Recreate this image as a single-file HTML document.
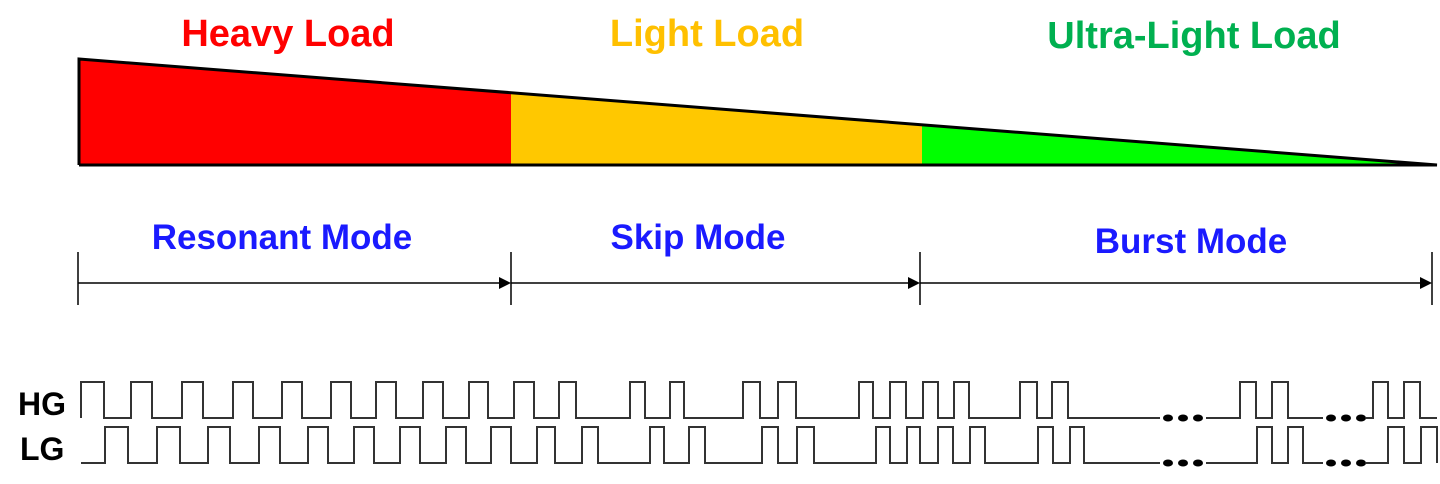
<!DOCTYPE html><html><head><style>body{margin:0;background:#fff}svg{display:block}text{font-family:"Liberation Sans",Arial,sans-serif;font-weight:bold}</style></head><body>
<svg width="1440" height="484" viewBox="0 0 1440 484">
<text x="288" y="46" font-size="38" fill="#ff0000" text-anchor="middle">Heavy Load</text>
<text x="707" y="46" font-size="38" fill="#ffc000" text-anchor="middle">Light Load</text>
<text x="1194" y="48" font-size="38" fill="#00b050" text-anchor="middle">Ultra-Light Load</text>
<polygon points="79,59 511,93 511,165 79,165" fill="#ff0000"/>
<polygon points="511,93 922,126 922,165 511,165" fill="#ffc800"/>
<polygon points="922,126 1437,165 922,165" fill="#00ff00"/>
<polyline points="79,165 79,59 1437,165 79,165" fill="none" stroke="#000" stroke-width="3"/>
<g font-size="35" fill="#1a1aff" text-anchor="middle">
<text x="282" y="249">Resonant Mode</text><text x="698" y="249">Skip Mode</text><text x="1191" y="253">Burst Mode</text></g>
<g stroke="#000" stroke-width="1.5">
<line x1="78" y1="252" x2="78" y2="305"/><line x1="511" y1="252" x2="511" y2="305"/><line x1="920" y1="252" x2="920" y2="305"/><line x1="1432" y1="252" x2="1432" y2="305"/>
<line x1="78" y1="283" x2="505" y2="283"/><line x1="511" y1="283" x2="914" y2="283"/><line x1="920" y1="283" x2="1426" y2="283"/></g>
<g fill="#000"><polygon points="511,283 499,277 499,289"/><polygon points="920,283 908,277 908,289"/><polygon points="1432,283 1420,277 1420,289"/></g>
<text x="18" y="415" font-size="32" fill="#000">HG</text>
<text x="20" y="460" font-size="32" fill="#000">LG</text>
<g fill="#000"><ellipse cx="1168" cy="418" rx="5" ry="3.5"/><ellipse cx="1183" cy="418" rx="5" ry="3.5"/><ellipse cx="1198" cy="418" rx="5" ry="3.5"/>
<ellipse cx="1331" cy="418" rx="5" ry="3.5"/><ellipse cx="1346" cy="418" rx="5" ry="3.5"/><ellipse cx="1361" cy="418" rx="5" ry="3.5"/>
<ellipse cx="1168" cy="463" rx="5" ry="3.5"/><ellipse cx="1183" cy="463" rx="5" ry="3.5"/><ellipse cx="1198" cy="463" rx="5" ry="3.5"/>
<ellipse cx="1331" cy="463" rx="5" ry="3.5"/><ellipse cx="1346" cy="463" rx="5" ry="3.5"/><ellipse cx="1361" cy="463" rx="5" ry="3.5"/></g>
<script>
function w(p,hi,lo,start,end){var d="M"+start+" "+lo;p.forEach(function(q){d+=" H"+q[0]+" V"+hi+" H"+q[1]+" V"+lo;});d+=" H"+end;return d;}
var H=[[81,104],[131,152],[182,203],[233,253],[282,302],[331,351],[376,396],[423,443],[469,488],[514,534],[559,576],[630,645],[670,684],[743,760],[778,796],[859,873],[890,906],[923,938],[954,969],[1020,1037],[1052,1068]];
var L=[[105,128],[157,180],[208,230],[259,280],[308,328],[354,374],[400,420],[446,466],[491,511],[537,555],[582,598],[650,664],[689,705],[762,778],[797,814],[876,890],[907,920],[938,953],[970,985],[1038,1053],[1070,1084]];
var ns="http://www.w3.org/2000/svg",svg=document.querySelector("svg");
function add(d){var e=document.createElementNS(ns,"path");e.setAttribute("d",d);e.setAttribute("fill","none");e.setAttribute("stroke","#333");e.setAttribute("stroke-width","2");svg.appendChild(e);}
add("M81 418 V382 H104 V418"+w(H.slice(1),382,418,104,1160).slice(8));
add(w([[1240,1256],[1272,1288]],382,418,1206,1323));
add(w([[1373,1388],[1404,1420]],382,418,1366,1437));
add(w(L,427,463,81,1160));
add(w([[1257,1272],[1288,1303]],427,463,1206,1323));
add(w([[1388,1404],[1421,1437]],427,463,1366,1437));
</script>
</svg></body></html>
